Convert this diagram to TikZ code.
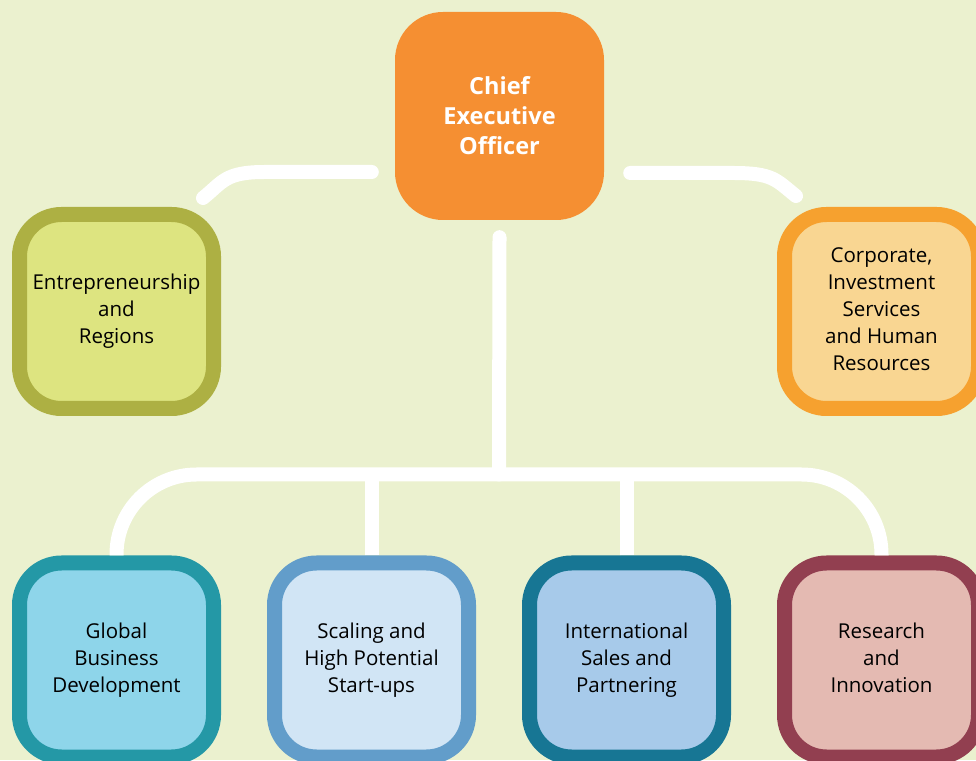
\documentclass[tikz,border=0pt]{standalone}
\usepackage{fontspec}
\setmainfont{Open Sans}
\usetikzlibrary{positioning}

\definecolor{paper}{HTML}{EBF1CF}
\definecolor{ceoorange}{HTML}{F58F32}
\definecolor{entreline}{HTML}{ADB043}
\definecolor{entrefill}{HTML}{DDE480}
\definecolor{corpline}{HTML}{F6A12F}
\definecolor{corpfill}{HTML}{F9D692}
\definecolor{globline}{HTML}{2498A6}
\definecolor{globfill}{HTML}{8ED5EA}
\definecolor{scaleline}{HTML}{629DCA}
\definecolor{scalefill}{HTML}{D1E5F5}
\definecolor{intline}{HTML}{177694}
\definecolor{intfill}{HTML}{A7CAEA}
\definecolor{resline}{HTML}{923F50}
\definecolor{resfill}{HTML}{E4BAB2}

\tikzset{
	unit/.style={rounded corners=42pt, line width=15pt, minimum width=194pt,
		minimum height=194pt, align=center, text=black, text depth=5pt,
		font=\fontsize{20.5}{27}\selectfont},
	head/.style={rounded corners=48pt, fill=ceoorange, minimum width=209pt,
		minimum height=208pt, align=center, text=white,
		font=\fontsize{23.5}{30}\selectfont\bfseries},
	link/.style={draw=white, line width=14pt, line cap=round}
}

\begin{document}
\begin{tikzpicture}[x=1pt, y=1pt, node distance=46pt]
	\clip (0,0) rectangle (976,760);
	\fill[paper] (0,0) rectangle (976,760);

	% top of the chart
	\node[head] (ceo) at (499.5,644) {Chief\\Executive\\Officer};
	\node[unit, draw=entreline, fill=entrefill] (entre) at (116.5,448.5) {Entrepreneurship\\and\\Regions};
	\node[unit, draw=corpline, fill=corpfill] (corp) at (881.5,448.5) {Corporate,\\Investment\\Services\\and Human\\Resources};

	% bottom row
	\node[unit, draw=globline, fill=globfill] (global) at (116.5,100) {Global\\Business\\Development};
	\node[unit, draw=scaleline, fill=scalefill, right=of global] (scaling) {Scaling and\\High Potential\\Start-ups};
	\node[unit, draw=intline, fill=intfill, right=of scaling] (intl) {International\\Sales and\\Partnering};
	\node[unit, draw=resline, fill=resfill, right=of intl] (research) {Research\\and\\Innovation};

	% side arms
	\draw[link] ([xshift=-23pt,yshift=-56pt]ceo.west) -- +(-107,0)
		.. controls +(-40,0) and +(20,16) .. ([xshift=-18pt,yshift=9pt]entre.north east);
	\draw[link] ([xshift=26pt,yshift=-57pt]ceo.east) -- +(103,0)
		.. controls +(40,0) and +(-20,16) .. ([xshift=19pt,yshift=11pt]corp.north west);

	% trunk and bus
	\coordinate (bus) at (499,285.5);
	\draw[link] ([yshift=-17pt]ceo.south) -- (bus);
	\draw[link, line cap=butt] (global.north) [rounded corners=80pt] |- (bus) -| (research.north);
	\foreach \n in {scaling,intl}
		\draw[link, line cap=butt] (\n.north) -- (\n.north |- bus);
\end{tikzpicture}
\end{document}
